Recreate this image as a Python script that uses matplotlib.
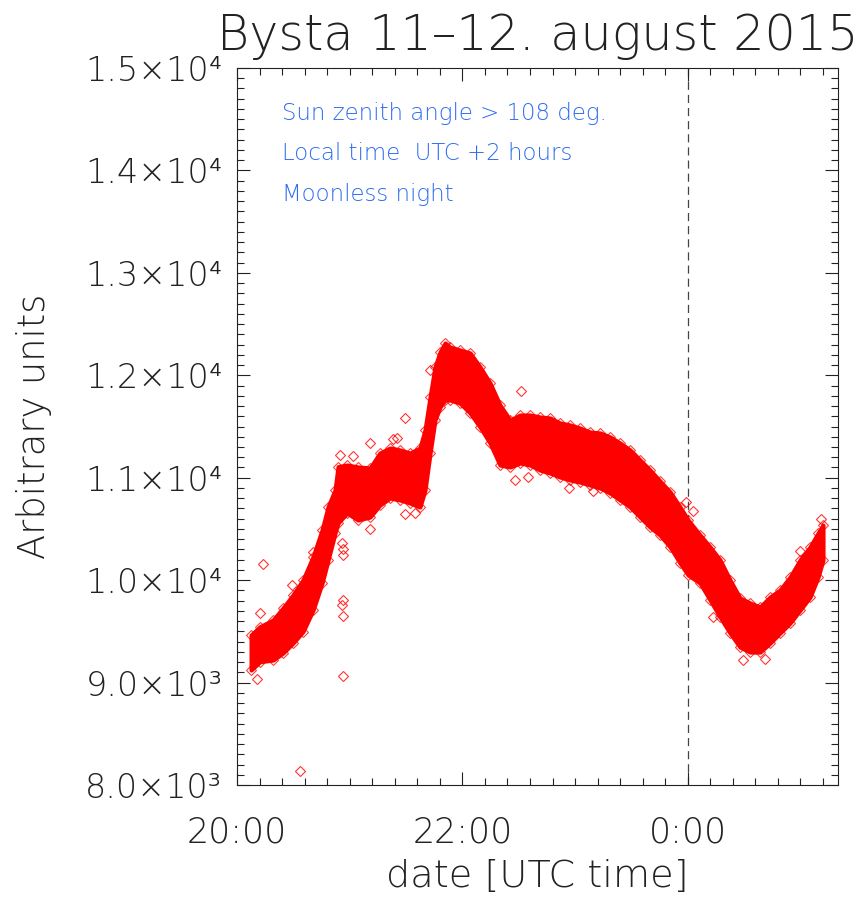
import numpy as np
import matplotlib
matplotlib.use("Agg")
import matplotlib.pyplot as plt
from matplotlib import font_manager as fm
from matplotlib.ticker import FixedLocator, FixedFormatter, MultipleLocator

# ---- data: sky brightness at Bysta, night of 11-12 August 2015 ----
# time in minutes after 20:00 UTC
band_minutes = [7.5, 12.2, 19.2, 24.5, 29.8, 35.1, 40.5, 45.3, 48.5, 52.2, 53.8,
                58.6, 64.4, 70.8, 76.1, 81.5, 86.8, 92.1, 97.4, 100.1, 102.8,
                105.4, 108.1, 110.8, 113.4, 118.7, 124.1, 129.4, 134.7, 140.0,
                145.4, 150.7, 156.0, 161.3, 166.7, 172.0, 177.3, 182.6, 188.0,
                193.3, 198.6, 203.9, 209.3, 214.6, 219.9, 225.2, 230.6, 235.9,
                240.2, 246.5, 251.9, 257.2, 262.5, 267.8, 273.2, 278.5, 283.8,
                289.1, 294.5, 299.8, 305.1, 309.4, 312.0]
# upper and lower edge of the dense cloud of measurements
band_upper = [9464, 9545, 9611, 9728, 9855, 10001, 10229, 10490, 10717, 10880,
              11108, 11124, 11105, 11095, 11241, 11290, 11271, 11241, 11290,
              11466, 11788, 12081, 12227, 12315, 12276, 12247, 12218, 12081,
              11925, 11710, 11563, 11612, 11612, 11593, 11583, 11534, 11515,
              11485, 11446, 11437, 11398, 11339, 11271, 11173, 11075, 10968,
              10861, 10714, 10587, 10441, 10324, 10197, 10001, 9826, 9777,
              9738, 9835, 9904, 10031, 10197, 10324, 10460, 10538]
band_lower = [9123, 9204, 9220, 9289, 9386, 9497, 9708, 9972, 10197, 10460,
              10558, 10655, 10587, 10616, 10734, 10802, 10783, 10753, 10714,
              10880, 11241, 11563, 11690, 11759, 11759, 11729, 11632, 11495,
              11339, 11124, 11105, 11144, 11124, 11075, 11046, 11007, 10978,
              10958, 10929, 10900, 10851, 10783, 10714, 10616, 10519, 10441,
              10324, 10167, 10050, 9972, 9806, 9640, 9484, 9347, 9298, 9298,
              9386, 9484, 9582, 9708, 9835, 10031, 10197]
# isolated measurements outside the main cloud
single_minutes = [33.5, 14.0, 10.8, 56.6, 56.6, 55.7, 56.6, 56.6, 56.6, 55.9,
                  54.8, 61.9, 70.8, 83.1, 85.0, 89.5, 102.8, 151.2, 70.8, 89.5,
                  94.8, 148.0, 155.1, 176.8, 189.7, 239.1, 243.0, 311.1, 299.8,
                  269.3, 281.2, 253.5, 29.1, 12.2, 40.3]
single_values = [8137, 10155, 9032, 9067, 9806, 9757, 9650, 10245, 10304, 10366,
                 11222, 11215, 11342, 11378, 11391, 11580, 12052, 11850, 10499,
                 10646, 10652, 10978, 11004, 10903, 10873, 10766, 10678, 10594,
                 10285, 9220, 9227, 9643, 9953, 9679, 10272]

y_ticks = [8000, 9000, 10000, 11000, 12000, 13000, 14000, 15000]
y_labels = ["8.0×10³", "9.0×10³", "1.0×10⁴", "1.1×10⁴", "1.2×10⁴",
            "1.3×10⁴", "1.4×10⁴", "1.5×10⁴"]
x_ticks = [20, 22, 24]
x_labels = ["20:00", "22:00", "0:00"]
notes = ["Sun zenith angle > 108 deg.", "Local time  UTC +2 hours",
         "Moonless night"]


# ---- thin font, as close to a plain stroke font as available ----
def pick_light_font():
    for fam, maxw in [("DejaVu Sans", 200), ("Lato", 300), ("Roboto", 300),
                      ("Open Sans", 300)]:
        ws = [f.weight for f in fm.fontManager.ttflist
              if f.name == fam and f.style == "normal"
              and isinstance(f.weight, int) and f.weight <= maxw]
        if ws:
            return fam, max(ws)
    return "DejaVu Sans", "normal"


fam, wt = pick_light_font()
plt.rcParams["font.family"] = [fam, "DejaVu Sans"]
plt.rcParams["font.weight"] = wt
plt.rcParams["axes.titleweight"] = wt
plt.rcParams["axes.labelweight"] = wt

ink = "#222222"
red = "#ff0000"
blue = "#2e6cf0"

fig = plt.figure(figsize=(8.61, 8.99), dpi=100)
ax = fig.add_axes([237 / 861, 1 - 785 / 899, 601 / 861, 717 / 899])

t = 20 + np.asarray(band_minutes) / 60.0
ts = 20 + np.asarray(single_minutes) / 60.0

ax.fill_between(t, band_lower, band_upper, color=red, lw=3, ec=red, zorder=2)
mk = dict(ls="none", marker="D", ms=4.6, mfc="none", mew=0.8, zorder=3)
ax.plot(t, band_upper, mec=red, alpha=0.75, **mk)
ax.plot(t, band_lower, mec=red, alpha=0.75, **mk)
ax.plot(ts, single_values, mec=red, alpha=0.8, **mk)

ax.axvline(24, color="#444444", lw=0.9, ls=(0, (6.5, 4)), zorder=1)

ax.set_xlim(20, 20 + 320 / 60)
ax.set_ylim(8000, 15000)

ax.xaxis.set_major_locator(FixedLocator(x_ticks))
ax.xaxis.set_major_formatter(FixedFormatter(x_labels))
ax.xaxis.set_minor_locator(MultipleLocator(0.2))
ax.yaxis.set_major_locator(FixedLocator(y_ticks))
ax.yaxis.set_major_formatter(FixedFormatter(y_labels))
ax.yaxis.set_minor_locator(MultipleLocator(100))

ax.tick_params(which="both", direction="in", top=True, right=True,
               colors=ink, width=0.8)
ax.tick_params(which="major", length=9.4)
ax.tick_params(which="minor", length=5.0)
ax.tick_params(axis="y", which="major", labelsize=24, pad=10.5)
ax.tick_params(axis="x", which="major", labelsize=25, pad=22)
for s in ax.spines.values():
    s.set_color(ink)
    s.set_linewidth(0.8)

ax.set_title("Bysta 11–12. august 2015", fontsize=35.5, color=ink, pad=13,
             fontweight=wt)
ax.set_xlabel("date [UTC time]", fontsize=27.5, color=ink, labelpad=7,
              fontweight=wt)
ax.set_ylabel("Arbitrary units", fontsize=26.5, color=ink, fontweight=wt)
ax.yaxis.set_label_coords(-0.308, 0.5)

for i, txt in enumerate(notes):
    ax.text(0.0749, [0.937, 0.881, 0.824][i], txt, transform=ax.transAxes,
            color=blue, fontsize=16.5, ha="left", va="center", fontweight=wt)

fig.savefig("out.png", dpi=100)
